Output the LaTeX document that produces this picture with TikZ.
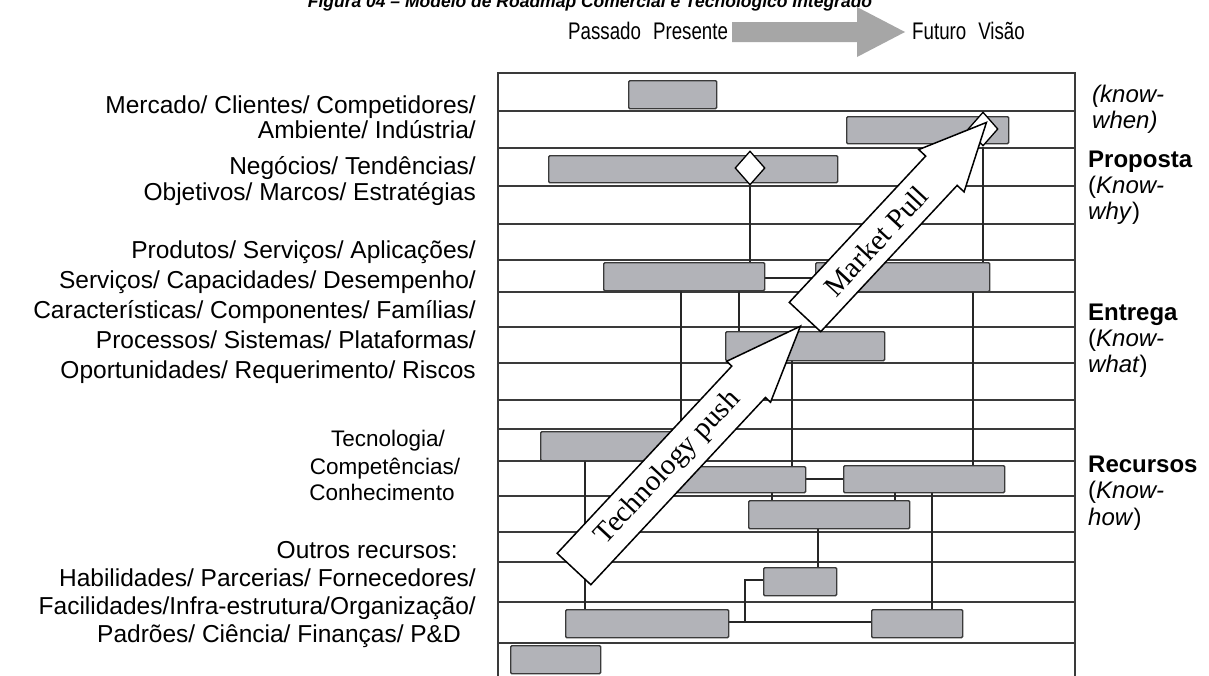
\documentclass[tikz,border=0pt]{standalone}
\usepackage{fontspec}
\setmainfont{Liberation Sans}
\newfontfamily\arrowfont{Liberation Serif}
\newfontfamily\narrowsans[FakeStretch=0.78]{Liberation Sans}
\usetikzlibrary{shapes.geometric}
\definecolor{barfill}{RGB}{178,179,184}
\definecolor{rule}{RGB}{58,58,58}
\definecolor{headgray}{RGB}{166,166,166}

\pgfdeclarelayer{rows}
\pgfdeclarelayer{links}
\pgfsetlayers{rows,links,main}

\newcommand\roadbar[5]{%
  \node[bar, anchor=north west, minimum width={#4pt-#2pt}, minimum height={#5pt-#3pt}] (#1) at (#2,#3) {};}

\begin{document}
\begin{tikzpicture}[x=1pt,y=-1pt,
  gridline/.style={draw=rule, line width=1.5pt},
  sepline/.style={draw=rule, line width=2.6pt},
  frameline/.style={draw=rule, line width=2.6pt},
  bar/.style={draw=rule, fill=barfill, line width=1.4pt, rounded corners=1.2pt, inner sep=0pt},
  link/.style={draw=black!85, line width=1.3pt},
  milestone/.style={diamond, draw=black, fill=white, line width=1.3pt, inner sep=0pt, minimum width=30pt, minimum height=34pt},
  bigarrow/.style={draw=black, fill=white, line width=1.5pt, line join=miter},
  lbl/.style={anchor=base east, inner sep=0pt, font=\fontsize{24.5}{29}\selectfont},
  clbl/.style={anchor=base, inner sep=0pt, font=\fontsize{22.5}{27}\selectfont},
  rlbl/.style={anchor=base west, inner sep=0pt, font=\fontsize{24}{28}\selectfont},
  hdr/.style={inner sep=0pt, font=\narrowsans\fontsize{24}{26}\selectfont},
  arrowtext/.style={rotate=47, inner sep=0pt, font=\arrowfont\fontsize{29}{29}\selectfont}
]
\useasboundingbox (0,0) rectangle (1209,675);
\clip (0,0) rectangle (1209,675);
\begin{pgfonlayer}{rows}
\fill[white] (0,0) rectangle (1209,675);
\end{pgfonlayer}

% caption (its upper half lies above the page)
\node[anchor=base, inner sep=0pt, font=\bfseries\itshape\fontsize{17.5}{20}\selectfont] (caption) at (590,7)
  {Figura 04 – Modelo de Roadmap Comercial e Tecnológico Integrado};

% time axis
\node[hdr, anchor=west] (past) at (568,31) {Passado\hspace{0.5em}Presente};
\node[hdr, anchor=west] (future) at (912,31) {Futuro\hspace{0.5em}Visão};
\fill[headgray] ([xshift=4pt]past.east |- 0,22) -- (857,22) -- (857,7) -- (905,32)
  -- (857,57) -- (857,42) -- ([xshift=4pt]past.east |- 0,42) -- cycle;

% layer rows
\begin{pgfonlayer}{rows}
\foreach \y in {111,148,186,260,292,327,363,429,461,496,532,602,643}
  \draw[gridline] (498,\y) -- (1075,\y);
\foreach \y in {224,400,562}
  \draw[sepline] (498,\y) -- (1075,\y);
\draw[frameline] (498,676) -- (498,73) -- (1075,73) -- (1075,676);
\end{pgfonlayer}

% activity bars
\roadbar{b1}{628}{80}{716}{108}
\roadbar{b2}{846}{116}{1008}{143}
\roadbar{b3}{548}{155}{837}{182}
\roadbar{b4}{603}{262}{764}{290}
\roadbar{b5}{815}{262}{989}{291}
\roadbar{b6}{725}{331}{884}{360}
\roadbar{b7}{540}{431}{690}{460}
\roadbar{b8}{660}{466}{805}{492}
\roadbar{b9}{843}{465}{1004}{492}
\roadbar{b10}{748}{500}{909}{528}
\roadbar{b11}{763}{567}{836}{595}
\roadbar{b12}{871}{609}{962}{637}
\roadbar{b13}{565}{609}{728}{637}
\roadbar{b14}{510}{645}{600}{673}

% milestones
\node[milestone] (m1) at (750,168) {};
\node[milestone] (m2) at (983,129) {};

% links between activities
\begin{pgfonlayer}{links}
\draw[link] (m1.south) -- (m1.south |- b4.north);
\draw[link] (m2.south) -- (m2.south |- b5.north);
\draw[link] (681,0 |- b4.south) -- (681,0 |- b7.north);
\draw[link] (739,0 |- b4.south) -- (739,0 |- b6.north);
\draw[link] (792,0 |- b6.south) -- (792,0 |- b8.north);
\draw[link] (973,0 |- b5.south) -- (973,0 |- b9.north);
\draw[link] (772,0 |- b8.south) -- (772,0 |- b10.north);
\draw[link] (895,0 |- b9.south) -- (895,0 |- b10.north);
\draw[link] (932,0 |- b9.south) -- (932,0 |- b12.north);
\draw[link] (818,0 |- b10.south) -- (818,0 |- b11.north);
\draw[link] (585,0 |- b7.south) -- (585,0 |- b13.north);
\draw[link] (b4.east |- 0,278) -- (b5.west |- 0,278);
\draw[link] (b8.east |- 0,479) -- (b9.west |- 0,479);
\draw[link] (b13.east |- 0,622) -- (b12.west |- 0,622);
\draw[link] (745,622) -- (745,580) -- (b11.west |- 0,580);
\end{pgfonlayer}

% technology push
\begin{scope}[shift={(574,569)}, rotate=47]
  \draw[bigarrow] (0,-23) -- (256,-23) -- (256,-30) -- (332,0) -- (256,30) -- (256,23) -- (0,23) -- cycle;
  \node[arrowtext] (push) at (138,0) {Technology push};
\end{scope}

% market pull
\begin{scope}[shift={(805,317)}, rotate=47]
  \draw[bigarrow] (0,-21.5) -- (200,-21.5) -- (200,-31) -- (266,0) -- (200,31) -- (200,21.5) -- (0,21.5) -- cycle;
  \node[arrowtext] (pull) at (104,0) {Market Pull};
\end{scope}

% layer names, left
\node[lbl] (l1) at (476,113) {Mercado/ Clientes/ Competidores/};
\node[lbl] (l2) at (476,138) {Ambiente/ Indústria/};
\node[lbl] (l3) at (476,174) {Negócios/ Tendências/};
\node[lbl] (l4) at (476,200) {Objetivos/ Marcos/ Estratégias};
\node[lbl] (l5) at (476,258) {Produtos/ Serviços/ Aplicações/};
\node[lbl] (l6) at (476,288) {Serviços/ Capacidades/ Desempenho/};
\node[lbl] (l7) at (476,318) {Características/ Componentes/ Famílias/};
\node[lbl] (l8) at (476,348) {Processos/ Sistemas/ Plataformas/};
\node[lbl] (l9) at (476,378) {Oportunidades/ Requerimento/ Riscos};
\node[clbl] (l10) at (388,446) {Tecnologia/};
\node[clbl] (l11) at (385,474) {Competências/};
\node[clbl] (l12) at (382,500) {Conhecimento};
\node[lbl] (l13) at (458,558) {Outros recursos:};
\node[lbl] (l14) at (476,586) {Habilidades/ Parcerias/ Fornecedores/};
\node[lbl] (l15) at (476,614) {Facilidades/Infra-estrutura/Organização/};
\node[lbl] (l16) at (461,642) {Padrões/ Ciência/ Finanças/ P\&D};

% layer names, right
\node[rlbl] (r1) at (1092,102) {\itshape(know-};
\node[rlbl] (r2) at (1092,128) {\itshape when)};
\node[rlbl] (r3) at (1088,167) {\bfseries Proposta};
\node[rlbl] (r4) at (1088,193) {(\textit{Know-}};
\node[rlbl] (r5) at (1088,219) {\textit{why})};
\node[rlbl] (r6) at (1088,320) {\bfseries Entrega};
\node[rlbl] (r7) at (1088,346) {(\textit{Know-}};
\node[rlbl] (r8) at (1088,372) {\textit{what})};
\node[rlbl] (r9) at (1088,472) {\bfseries Recursos};
\node[rlbl] (r10) at (1088,498) {(\textit{Know-}};
\node[rlbl] (r11) at (1088,525) {\textit{how})};
\end{tikzpicture}
\end{document}
